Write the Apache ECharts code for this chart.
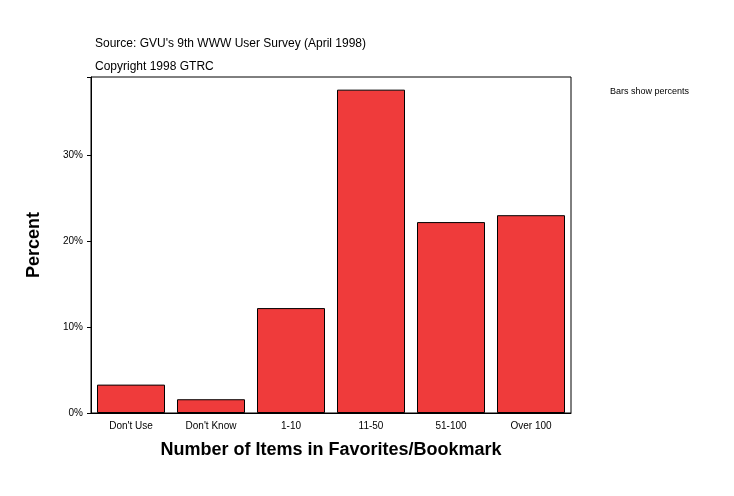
<!DOCTYPE html>
<html>
<head>
<meta charset="utf-8">
<script src="https://cdn.jsdelivr.net/npm/echarts@6/dist/echarts.min.js"></script>
<style>html,body{margin:0;padding:0;background:#fff}#c{width:734px;height:496px}</style>
</head>
<body>
<div id="c"></div>
<script>
var categories = ["Don't Use", "Don't Know", '1-10', '11-50', '51-100', 'Over 100']
var percents = [3.3, 1.6, 12.2, 37.6, 22.2, 23.0]
var yTicks = [0, 10, 20, 30]

var chart = echarts.init(document.getElementById('c'))
chart.setOption({
  animation: false,
  textStyle: { fontFamily: 'Arial, Liberation Sans' },
  title: [
    { text: "Source: GVU's 9th WWW User Survey (April 1998)", left: 90, top: 33, textStyle: { fontSize: 12, fontWeight: 'normal', color: '#000' } },
    { text: 'Copyright 1998 GTRC', left: 90, top: 56, textStyle: { fontSize: 12, fontWeight: 'normal', color: '#000' } },
    { text: 'Bars show percents', left: 605, top: 82, textStyle: { fontSize: 9, fontWeight: 'normal', color: '#000' } }
  ],
  grid: { left: 91, right: 163, top: 77, bottom: 83, show: true, borderColor: '#000', borderWidth: 1 },
  xAxis: {
    type: 'category',
    data: categories,
    name: 'Number of Items in Favorites/Bookmark',
    nameLocation: 'middle',
    nameGap: 28,
    nameTextStyle: { fontSize: 18, fontWeight: 'bold', color: '#000' },
    axisLine: { lineStyle: { color: '#000' } },
    axisTick: { show: false },
    axisLabel: { fontSize: 10, color: '#000', margin: 8 }
  },
  yAxis: {
    type: 'value',
    min: 0,
    max: 39.07,
    interval: 10,
    name: 'Percent',
    nameLocation: 'middle',
    nameGap: 48,
    nameTextStyle: { fontSize: 18, fontWeight: 'bold', color: '#000' },
    splitLine: { show: false },
    axisLine: { show: true, lineStyle: { color: '#000' } },
    axisTick: { show: true, length: 4, lineStyle: { color: '#000' } },
    axisLabel: {
      fontSize: 10, color: '#000',
      formatter: function (v) { return yTicks.indexOf(v) >= 0 ? v + '%' : '' }
    }
  },
  series: [{
    type: 'bar',
    data: percents,
    barCategoryGap: '15%',
    itemStyle: { color: '#ef3b3b', borderColor: '#000', borderWidth: 1 }
  }]
})
</script>
</body>
</html>
